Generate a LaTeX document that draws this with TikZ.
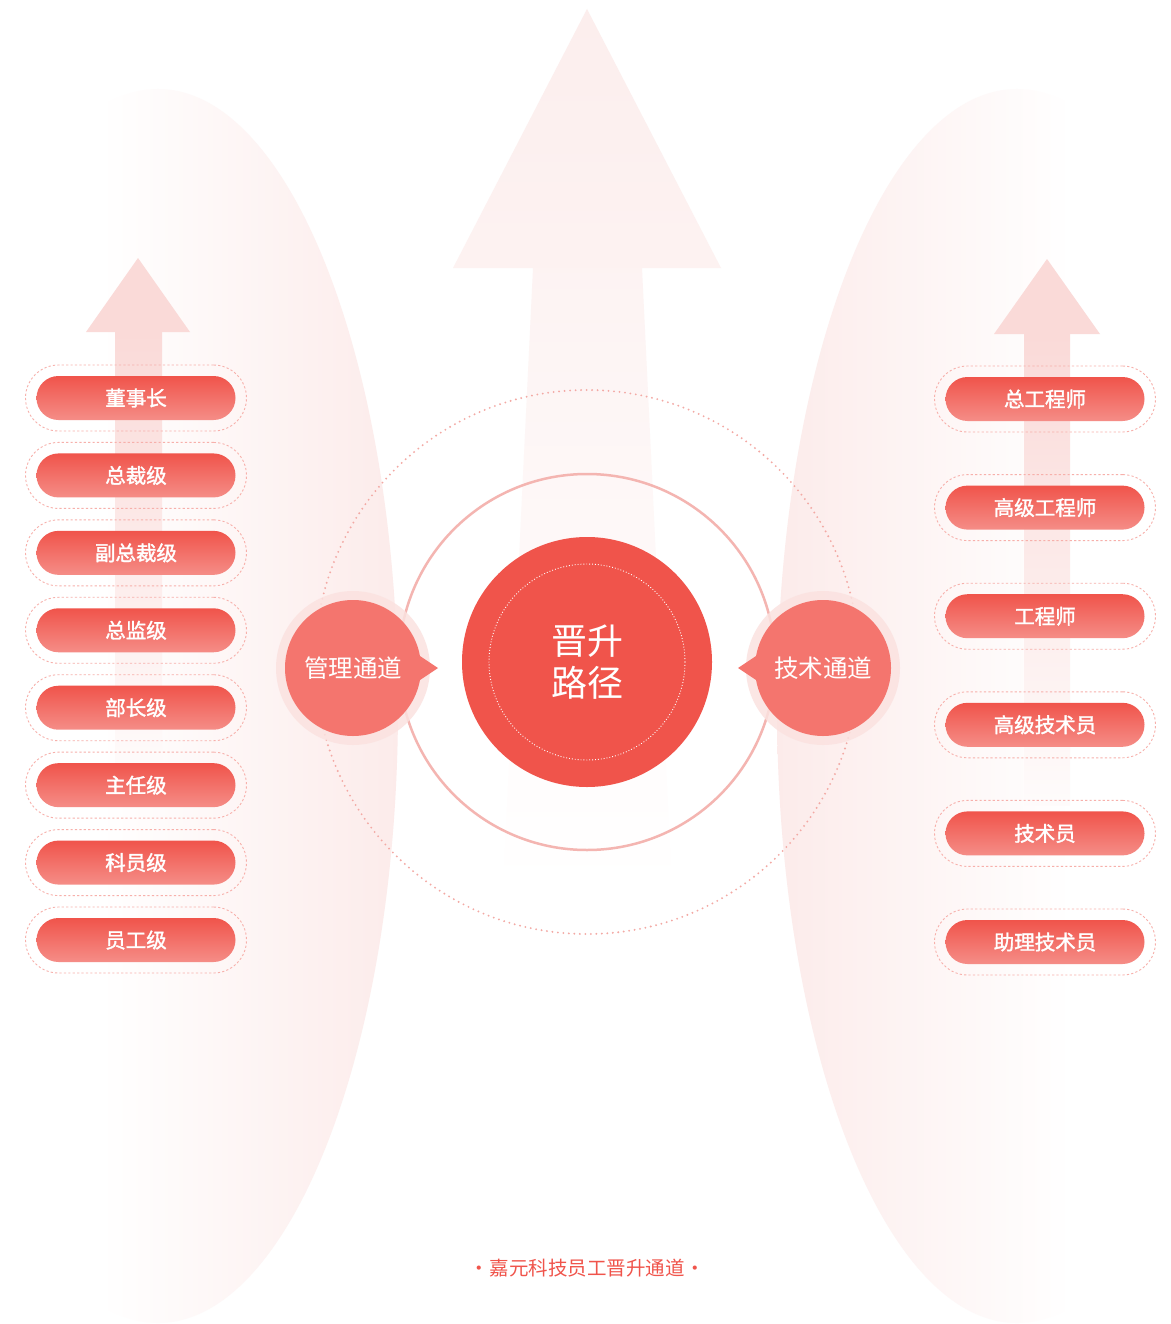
\documentclass[tikz,border=0pt]{standalone}
\usepackage{fontspec}
\newfontfamily\cjk{Noto Sans CJK SC}
\newfontfamily\cjkb{Noto Sans CJK SC}[FakeBold=1.6]
\definecolor{redA}{HTML}{F0544B}
\definecolor{redB}{HTML}{F58D87}
\definecolor{chan}{HTML}{F4756E}
\definecolor{halo}{HTML}{FBE2E0}
\definecolor{ringC}{HTML}{F4B5B1}
\definecolor{dotC}{HTML}{F3A9A4}
\definecolor{dashC}{HTML}{F7B0AB}
\definecolor{bgL}{HTML}{FFFDFD}
\definecolor{bgR}{HTML}{FCEBEA}
\definecolor{arrS}{HTML}{FADAD8}
\definecolor{arrB}{HTML}{FCEEED}
\tikzset{
  pillouter/.style={draw=dashC, line width=0.9pt, dash pattern=on 2.2pt off 2.2pt,
    rounded corners=33pt, minimum width=221pt, minimum height=66pt, inner sep=0pt},
  pill/.style={top color=redA, bottom color=redB, draw=none, rounded corners=22pt,
    minimum width=199pt, minimum height=44pt, inner sep=0pt, text=white,
    font=\cjkb\fontsize{20.5}{24}\selectfont},
  chanbox/.style={circle, fill=chan, minimum size=136pt, inner sep=0pt, text=white,
    font=\cjk\fontsize{24.5}{28}\selectfont},
}
\begin{document}
\begin{tikzpicture}[x=1pt,y=-1pt]
\useasboundingbox (0,0) rectangle (1170,1324);
\fill[white] (0,0) rectangle (1170,1324);
% background half ellipses
\begin{scope}
  \clip (158,706) ellipse [x radius=240, y radius=617];
  \shade[left color=white, right color=bgR] (100,80) rectangle (400,1330);
\end{scope}
\begin{scope}
  \clip (1017,706) ellipse [x radius=240, y radius=617];
  \shade[left color=bgR, right color=white] (775,80) rectangle (1072,1330);
\end{scope}
% big arrow
\shade[top color=arrB, bottom color=arrB!75!white] (587,9) -- (721,268) -- (453,268) -- cycle;
\shade[top color=arrB!70!white, bottom color=white] (533,268) -- (642,268) -- (672,890) -- (503,890) -- cycle;
% small arrows
\fill[arrS] (138,258) -- (190,332) -- (86,332) -- cycle;
\shade[top color=arrS, bottom color=arrS!10!white] (115,332) rectangle (162,770);
\fill[arrS] (1047,259) -- (1100,334) -- (994,334) -- cycle;
\shade[top color=arrS, bottom color=arrS!10!white] (1024,334) rectangle (1070,805);
% rings
\coordinate (ctr) at (587,662);
\draw[dotC, line width=2.1pt, line cap=round, dash pattern=on 0pt off 5.5pt] (ctr) circle [radius=272];
\draw[ringC, line width=2.5pt] (ctr) circle [radius=188];
% core
\node[circle, fill=redA, minimum size=250pt, inner sep=0pt, text=white, align=center,
  font=\cjk\fontsize{36}{42}\selectfont] (core) at (ctr) {晋升\\路径};
\draw[white, line width=0.9pt, dash pattern=on 0.9pt off 2pt] (core.center) circle [radius=98];
% channels
\fill[halo, opacity=0.85] (353,668) circle [radius=77];
\fill[halo, opacity=0.85] (823,668) circle [radius=77];
\fill[chan] (408,648) -- (438,668) -- (408,688) -- cycle;
\fill[chan] (768,648) -- (738,668) -- (768,688) -- cycle;
\node[chanbox] (mgmt) at (353,668) {\raisebox{-2pt}{管理通道}};
\node[chanbox] (tech) at (823,668) {\raisebox{-2pt}{技术通道}};
% left pills
\foreach \t [count=\i] in {董事长,总裁级,副总裁级,总监级,部长级,主任级,科员级,员工级}{
  \node[pillouter] (lo\i) at (136,{398+77.43*(\i-1)}) {};
  \node[pill] (l\i) at (lo\i.center) {\t};
}
% right pills
\foreach \t [count=\i] in {总工程师,高级工程师,工程师,高级技术员,技术员,助理技术员}{
  \node[pillouter] (ro\i) at (1045,{399+108.6*(\i-1)}) {};
  \node[pill] (r\i) at (ro\i.center) {\t};
}
% footer
\node[text=redA, font=\cjk\fontsize{19.5}{22}\selectfont] (foot) at (587,1268) {·\kern1pt 嘉元科技员工晋升通道\kern1pt ·};
\end{tikzpicture}
\end{document}
